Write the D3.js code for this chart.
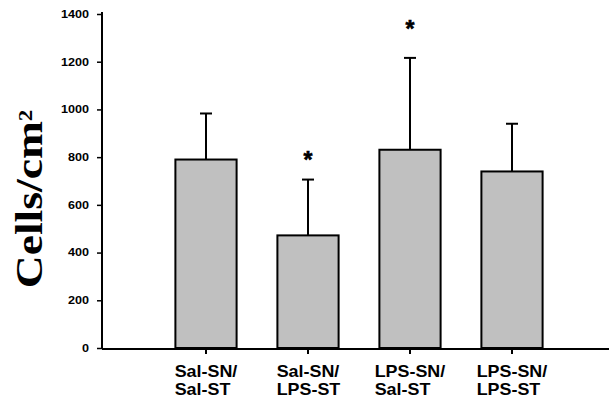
<!DOCTYPE html>
<html>
<head>
<meta charset="utf-8">
<script src="https://cdn.jsdelivr.net/npm/d3@7"></script>
<style>
  body { margin: 0; background: #fff; }
  svg { display: block; }
</style>
</head>
<body>
<div id="chart"></div>
<script>
var groups = ["Sal-SN/Sal-ST", "Sal-SN/LPS-ST", "LPS-SN/Sal-ST", "LPS-SN/LPS-ST"];
var line1 = ["Sal-SN/", "Sal-SN/", "LPS-SN/", "LPS-SN/"];
var line2 = ["Sal-ST", "LPS-ST", "Sal-ST", "LPS-ST"];
var means = [790, 472, 831, 740];
var errTop = [983, 706, 1216, 940];
var starAt = [null, 802, 1350, null];
var yTicks = [0, 200, 400, 600, 800, 1000, 1200, 1400];

function buildChart(id) {
  var width = 609;
  var height = 404;

  var margin = { top: 14, right: 0, bottom: 56, left: 102 };

  var svg = d3.select(id).append("svg").attr("width", width).attr("height", height);

  var y = d3.scaleLinear().domain([0, 1400]).range([348, 14]);

  var x = d3.scaleBand().domain(groups).range([155, 563]).paddingInner(0.4).paddingOuter(0.2);

  var data = groups.map(function (g, i) {
    return { group: g, mean: means[i], top: errTop[i], star: starAt[i], l1: line1[i], l2: line2[i] };
  });

  // y axis
  var yAxis = d3.axisLeft(y).tickValues(yTicks).tickFormat(d3.format("d")).tickSize(5).tickSizeOuter(0).tickPadding(0);
  var yg = svg.append("g").attr("transform", "translate(" + margin.left + ",0)").call(yAxis);
  yg.select(".domain").attr("stroke", "#000").attr("stroke-width", 2).attr("d", "M0,12V349");
  yg.selectAll(".tick line").attr("stroke", "#000").attr("stroke-width", 1.5);
  yg.selectAll(".tick text")
    .attr("x", 0)
    .attr("transform", "translate(-13,0) scale(1.2,1)")
    .style("font-family", "'Liberation Sans', Arial, sans-serif")
    .style("font-weight", "bold")
    .style("font-size", "10.5px")
    .attr("fill", "#000");

  // x axis line across the full width
  svg.append("line")
    .attr("x1", margin.left)
    .attr("x2", width)
    .attr("y1", y(0) + 1)
    .attr("y2", y(0) + 1)
    .attr("stroke", "#000")
    .attr("stroke-width", 2);

  var xAxis = d3.axisBottom(x).tickSize(5).tickFormat("");
  var xg = svg.append("g").attr("transform", "translate(0," + (y(0) + 1) + ")").call(xAxis);
  xg.select(".domain").remove();
  xg.selectAll(".tick line").attr("stroke", "#000").attr("stroke-width", 2);

  // error bars
  var eb = svg.selectAll(".err").data(data).enter().append("g").attr("class", "err");
  eb.append("line")
    .attr("x1", function (d) { return x(d.group) + x.bandwidth() / 2; })
    .attr("x2", function (d) { return x(d.group) + x.bandwidth() / 2; })
    .attr("y1", function (d) { return y(d.mean); })
    .attr("y2", function (d) { return y(d.top); })
    .attr("stroke", "#000")
    .attr("stroke-width", 2);
  eb.append("line")
    .attr("x1", function (d) { return x(d.group) + x.bandwidth() / 2 - 6; })
    .attr("x2", function (d) { return x(d.group) + x.bandwidth() / 2 + 6; })
    .attr("y1", function (d) { return y(d.top); })
    .attr("y2", function (d) { return y(d.top); })
    .attr("stroke", "#000")
    .attr("stroke-width", 2);

  // bars
  svg.selectAll(".bar")
    .data(data)
    .enter()
    .append("rect")
    .attr("class", "bar")
    .attr("x", function (d) { return x(d.group); })
    .attr("y", function (d) { return y(d.mean); })
    .attr("width", x.bandwidth())
    .attr("height", function (d) { return y(0) - y(d.mean); })
    .attr("fill", "#c0c0c0")
    .attr("stroke", "#000")
    .attr("stroke-width", 2);

  // significance stars
  svg.selectAll(".star")
    .data(data.filter(function (d) { return d.star !== null; }))
    .enter()
    .append("text")
    .attr("class", "star")
    .attr("x", function (d) { return x(d.group) + x.bandwidth() / 2; })
    .attr("y", function (d) { return y(d.star) + 11; })
    .attr("text-anchor", "middle")
    .attr("stroke", "#000")
    .attr("stroke-width", 0.6)
    .style("font-family", "'Liberation Sans', Arial, sans-serif")
    .style("font-weight", "bold")
    .style("font-size", "23px")
    .text("*");

  // category labels, two lines, left aligned under the tick
  var labels = svg.selectAll(".cat")
    .data(data)
    .enter()
    .append("g")
    .attr("class", "cat");

  labels.each(function (d) {
    var g = d3.select(this);
    var cx = x(d.group) + x.bandwidth() / 2;
    var t1 = g.append("text")
      .style("font-family", "'Liberation Sans', Arial, sans-serif")
      .style("font-weight", "bold")
      .style("font-size", "16px")
      .text(d.l1);
    var w = t1.node().getComputedTextLength() * 1.12;
    var left = cx - w / 2;
    t1.attr("transform", "translate(" + left + ",376.5) scale(1.12,1)");
    g.append("text")
      .attr("transform", "translate(" + left + ",395) scale(1.12,1)")
      .style("font-family", "'Liberation Sans', Arial, sans-serif")
      .style("font-weight", "bold")
      .style("font-size", "16px")
      .text(d.l2);
  });

  // y axis title
  var title = svg.append("text")
    .attr("transform", "translate(42,199) rotate(-90) scale(1.2,1)")
    .attr("text-anchor", "middle")
    .style("font-family", "'Liberation Serif', 'Times New Roman', serif")
    .style("font-weight", "bold")
    .style("font-size", "38px");
  title.append("tspan").text("Cells/cm");
  title.append("tspan").attr("dy", -10).style("font-size", "19px").text("2");
}

buildChart("#chart");
</script>
</body>
</html>
